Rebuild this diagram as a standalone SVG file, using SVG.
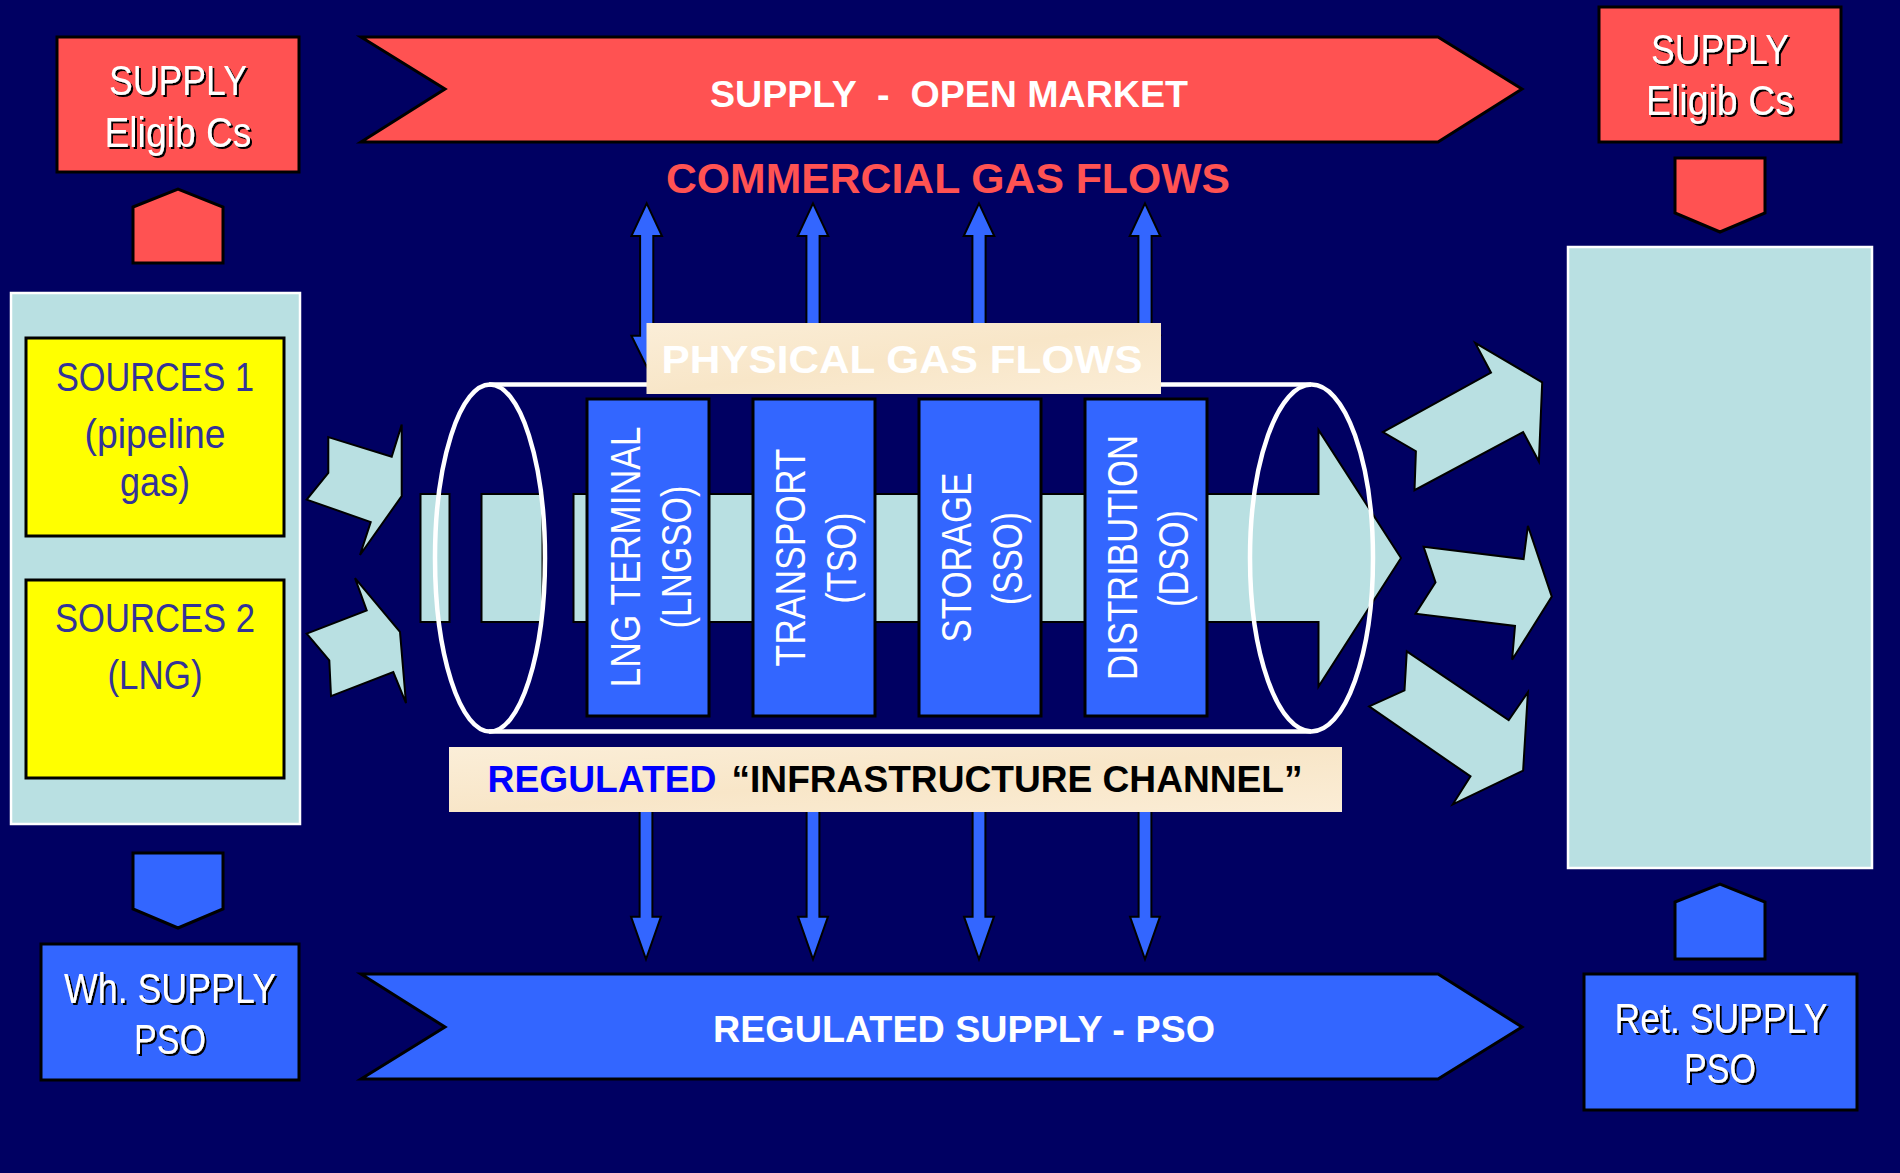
<svg xmlns="http://www.w3.org/2000/svg" width="1900" height="1173" viewBox="0 0 1900 1173">
<defs>
<style>
.bg{fill:#000062}
.red{fill:#FF5252;stroke:#000;stroke-width:3}
.blue{fill:#3366FF;stroke:#000;stroke-width:3}
.lb{fill:#B9E0E2;stroke:#000;stroke-width:2}
.lbw{fill:#B9E0E2;stroke:#fff;stroke-width:2.5}
.yel{fill:#FFFF00;stroke:#000;stroke-width:3}
.cream{fill:#FAEBD3}
.arr{fill:#3366FF;stroke:#000;stroke-width:2}
.pipe{fill:none;stroke:#fff;stroke-width:4.5}
.bt{font-family:"Liberation Sans Narrow","Liberation Sans",Arial,sans-serif;font-size:42px;fill:#fff;text-anchor:middle}
.src{font-family:"Liberation Sans Narrow","Liberation Sans",Arial,sans-serif;font-size:41px;fill:#333399;text-anchor:middle}
.op{font-family:"Liberation Sans Narrow","Liberation Sans",Arial,sans-serif;font-size:43px;fill:#fff;text-anchor:middle}
.hd{font-family:"Liberation Sans Narrow","Liberation Sans",Arial,sans-serif;font-weight:bold;text-anchor:middle}
</style>
<filter id="sh" x="-10%" y="-20%" width="130%" height="150%">
<feDropShadow dx="2" dy="2" stdDeviation="0" flood-color="#000" flood-opacity="1"/>
</filter>
<linearGradient id="cr" x1="0" y1="0" x2="1" y2="1">
<stop offset="0" stop-color="#FBEED8"/>
<stop offset="0.5" stop-color="#F8E6C8"/>
<stop offset="1" stop-color="#FBEDD6"/>
</linearGradient>
</defs>
<rect class="bg" x="0" y="0" width="1900" height="1173"/>

<g id="open-market">
<polygon class="red" points="361,37 1438,37 1522,89 1438,142 361,142 445,89"/>
<text class="hd" x="949" y="107" font-size="37" fill="#fff" textLength="478" lengthAdjust="spacingAndGlyphs" xml:space="preserve">SUPPLY  -  OPEN MARKET</text>
</g>

<g id="commercial-label">
<text class="hd" x="948" y="193" font-size="42" fill="#FF5252" textLength="564" lengthAdjust="spacingAndGlyphs">COMMERCIAL GAS FLOWS</text>
</g>

<g id="supply-eligib-left">
<rect class="red" x="57" y="37" width="242" height="135"/>
<text class="bt" x="178" y="95" filter="url(#sh)" textLength="138" lengthAdjust="spacingAndGlyphs">SUPPLY</text>
<text class="bt" x="178" y="147" filter="url(#sh)" textLength="147" lengthAdjust="spacingAndGlyphs">Eligib Cs</text>
</g>

<g id="supply-eligib-right">
<rect class="red" x="1599" y="7" width="242" height="135"/>
<text class="bt" x="1720" y="64" filter="url(#sh)" textLength="138" lengthAdjust="spacingAndGlyphs">SUPPLY</text>
<text class="bt" x="1720" y="115" filter="url(#sh)" textLength="148" lengthAdjust="spacingAndGlyphs">Eligib Cs</text>
</g>

<g id="sources-panel">
<rect class="lbw" x="11" y="293" width="289" height="531"/>
</g>
<g id="sources-1">
<rect class="yel" x="26" y="338" width="258" height="198"/>
<text class="src" x="155" y="391" textLength="198" lengthAdjust="spacingAndGlyphs">SOURCES 1</text>
<text class="src" x="155" y="448" textLength="141" lengthAdjust="spacingAndGlyphs">(pipeline</text>
<text class="src" x="155" y="496" textLength="70" lengthAdjust="spacingAndGlyphs">gas)</text>
</g>
<g id="sources-2">
<rect class="yel" x="26" y="580" width="258" height="198"/>
<text class="src" x="155" y="632" textLength="200" lengthAdjust="spacingAndGlyphs">SOURCES 2</text>
<text class="src" x="155" y="689" textLength="95" lengthAdjust="spacingAndGlyphs">(LNG)</text>
</g>

<g id="customers-panel">
<rect class="lbw" x="1568" y="247" width="304" height="621"/>
</g>

<g id="wh-supply">
<rect class="blue" x="41" y="944" width="258" height="136"/>
<text class="bt" x="170" y="1003" font-size="41" filter="url(#sh)" textLength="212" lengthAdjust="spacingAndGlyphs">Wh. SUPPLY</text>
<text class="bt" x="170" y="1054" font-size="41" filter="url(#sh)" textLength="72" lengthAdjust="spacingAndGlyphs">PSO</text>
</g>

<g id="ret-supply">
<rect class="blue" x="1584" y="974" width="273" height="136"/>
<text class="bt" x="1721" y="1033" font-size="41" filter="url(#sh)" textLength="213" lengthAdjust="spacingAndGlyphs">Ret. SUPPLY</text>
<text class="bt" x="1720" y="1083" font-size="41" filter="url(#sh)" textLength="72" lengthAdjust="spacingAndGlyphs">PSO</text>
</g>

<g id="regulated-supply">
<polygon class="blue" points="361,974 1438,974 1522,1027 1438,1079 361,1079 445,1027"/>
<text class="hd" x="964" y="1042" font-size="37" fill="#fff" textLength="502" lengthAdjust="spacingAndGlyphs">REGULATED SUPPLY - PSO</text>
</g>

<g id="physical-flow">
<rect class="lb" x="420.5" y="494" width="29" height="128"/>
<rect class="lb" x="481.5" y="494" width="61" height="128"/>
<polygon class="lb" points="573.5,494 1318.5,494 1318.5,430 1401,558 1318.5,686.5 1318.5,622 573.5,622"/>
</g>

<g id="pipe">
<line class="pipe" x1="489" y1="384.5" x2="1311" y2="384.5"/>
<line class="pipe" x1="489" y1="731.5" x2="1311" y2="731.5"/>
<ellipse class="pipe" cx="490" cy="558" rx="55" ry="173.5"/>
<ellipse class="pipe" cx="1311.5" cy="558" rx="61.5" ry="173.5"/>
</g>

<g id="connectors">
<g id="commercial-arrows">
<polygon class="arr" points="646.7,203.3 662,236 653.3,236 653.3,335.7 662,335.7 646.7,366.7 631.4,335.7 640.1,335.7 640.1,236 631.4,236"/>
<polygon class="arr" points="813,203.3 828.3,236 819.6,236 819.6,335.7 828.3,335.7 813,366.7 797.7,335.7 806.4,335.7 806.4,236 797.7,236"/>
<polygon class="arr" points="979,203.3 994.3,236 985.6,236 985.6,335.7 994.3,335.7 979,366.7 963.7,335.7 972.4,335.7 972.4,236 963.7,236"/>
<polygon class="arr" points="1145,203.3 1160.3,236 1151.6,236 1151.6,335.7 1160.3,335.7 1145,366.7 1129.7,335.7 1138.4,335.7 1138.4,236 1129.7,236"/>
</g>
<g id="regulated-arrows">
<polygon class="arr" points="639.6,780 652.4,780 652.4,916.7 661,916.7 646,959.3 631,916.7 639.6,916.7"/>
<polygon class="arr" points="806.6,780 819.4,780 819.4,916.7 828,916.7 813,959.3 798,916.7 806.6,916.7"/>
<polygon class="arr" points="972.6,780 985.4,780 985.4,916.7 994,916.7 979,959.3 964,916.7 972.6,916.7"/>
<polygon class="arr" points="1138.6,780 1151.4,780 1151.4,916.7 1160,916.7 1145,959.3 1130,916.7 1138.6,916.7"/>
</g>
<g id="inflow-arrows">
<polygon class="lb" points="328.3,437.1 391.7,456.8 401.7,424.6 401.7,496.1 360,555 370.7,522.1 306.7,499.6 328.3,472.9"/>
<polygon class="lb" points="355,578.2 400,631.8 406,703.2 393.3,672.1 331,696.1 329.3,660.4 306.7,633.6 366.7,610.4"/>
</g>
<g id="outflow-arrows">
<polygon class="lb" points="1475.2,342.9 1542.2,382.3 1538.9,461.5 1523.1,432 1414.5,490.2 1415.9,451.2 1382.9,432 1491,372.7"/>
<polygon class="lb" points="1423.6,546.8 1523.6,559.1 1527.9,525.8 1551.8,596.6 1512.1,659.7 1515,626 1415.5,613.8 1435.5,582.4"/>
<polygon class="lb" points="1406.8,651.3 1508.7,720.2 1527.9,692.2 1523.1,770.7 1452.8,804.3 1470.5,776.4 1369.1,706.4 1404.5,690.3"/>
</g>
<g id="up-pentagons">
<polygon class="red" points="133,207 178,189 223,207 223,263 133,263"/>
<polygon class="blue" points="1675,902 1720,884 1765,902 1765,959 1675,959"/>
</g>
<g id="down-pentagons">
<polygon class="red" points="1675,158 1765,158 1765,213 1720,232 1675,213"/>
<polygon class="blue" points="133,853 223,853 223,909 178,928 133,909"/>
</g>
</g>

<g id="physical-label">
<rect x="646.5" y="323" width="514.5" height="71" fill="url(#cr)"/>
<text class="hd" x="902" y="373" font-size="39" fill="#fff" textLength="481" lengthAdjust="spacingAndGlyphs">PHYSICAL GAS FLOWS</text>
</g>

<g id="lng-terminal">
<rect class="blue" x="587" y="399" width="122" height="317"/>
<text class="op" transform="translate(639.5,557) rotate(-90)" textLength="261" lengthAdjust="spacingAndGlyphs">LNG TERMINAL</text>
<text class="op" transform="translate(690.5,557) rotate(-90)" textLength="143" lengthAdjust="spacingAndGlyphs">(LNGSO)</text>
</g>
<g id="transport">
<rect class="blue" x="753" y="399" width="122" height="317"/>
<text class="op" transform="translate(804.5,557.5) rotate(-90)" textLength="218" lengthAdjust="spacingAndGlyphs">TRANSPORT</text>
<text class="op" transform="translate(856,558) rotate(-90)" textLength="91" lengthAdjust="spacingAndGlyphs">(TSO)</text>
</g>
<g id="storage">
<rect class="blue" x="919" y="399" width="122" height="317"/>
<text class="op" transform="translate(970.5,557.5) rotate(-90)" textLength="170" lengthAdjust="spacingAndGlyphs">STORAGE</text>
<text class="op" transform="translate(1022,558.5) rotate(-90)" textLength="93" lengthAdjust="spacingAndGlyphs">(SSO)</text>
</g>
<g id="distribution">
<rect class="blue" x="1085" y="399" width="122" height="317"/>
<text class="op" transform="translate(1136.5,557.5) rotate(-90)" textLength="245" lengthAdjust="spacingAndGlyphs">DISTRIBUTION</text>
<text class="op" transform="translate(1188,558.5) rotate(-90)" textLength="97" lengthAdjust="spacingAndGlyphs">(DSO)</text>
</g>

<g id="infrastructure-label">
<rect x="449" y="747" width="893" height="65" fill="url(#cr)"/>
<text class="hd" x="602" y="792" font-size="36" fill="#0000FF" text-anchor="middle" textLength="229" lengthAdjust="spacingAndGlyphs">REGULATED</text>
<text class="hd" x="1017" y="792" font-size="36" fill="#000" textLength="571" lengthAdjust="spacingAndGlyphs">“INFRASTRUCTURE CHANNEL”</text>
</g>
</svg>
